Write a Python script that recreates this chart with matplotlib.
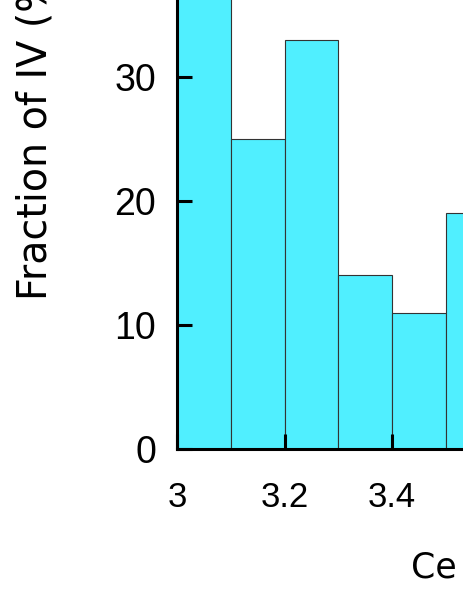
import matplotlib
matplotlib.use("Agg")
import matplotlib.pyplot as plt

plt.rcParams['font.family'] = ['Liberation Sans', 'DejaVu Sans']

# histogram bins (left edges) and fractions
bin_left = [3.0, 3.1, 3.2, 3.3, 3.4, 3.5]
fraction = [42, 25, 33, 14, 11, 19]
bin_width = 0.1

x_ticks = [3.0, 3.2, 3.4, 3.6, 3.8, 4.0]
x_ticklabels = ["3", "3.2", "3.4", "3.6", "3.8", "4"]
y_ticks = [0, 10, 20, 30, 40, 50]

W, H = 463, 599
fig = plt.figure(figsize=(W / 100, H / 100), dpi=100)

# axes extend past the figure edges (cropped view)
left, bottom = 177 / W, 150 / H
width, height = 538 / W, 620 / H
ax = fig.add_axes([left, bottom, width, height])

ax.bar(bin_left, fraction, width=bin_width, align='edge',
       color='#50EFFF', edgecolor='#333333', linewidth=0.8)

ax.set_xlim(3.0, 4.0)
ax.set_ylim(0, 50)
ax.set_xticks(x_ticks)
ax.set_xticklabels(x_ticklabels)
ax.set_yticks(y_ticks)

for s in ax.spines.values():
    s.set_linewidth(2.2)
ax.tick_params(direction='in', length=11, width=2.2)
ax.tick_params(axis='x', pad=23, labelsize=25)
ax.tick_params(axis='y', pad=15, labelsize=27)

fig.text(47 / W, (H - 300) / H, "Fraction of IV (%)", rotation=90,
         rotation_mode='anchor', ha='left', va='baseline', fontsize=28.5,
         family='DejaVu Sans')
fig.text(411 / W, (H - 578) / H, "Ce valence", ha='left', va='baseline',
         fontsize=25, family='DejaVu Sans')

fig.savefig("out.png", dpi=100)
